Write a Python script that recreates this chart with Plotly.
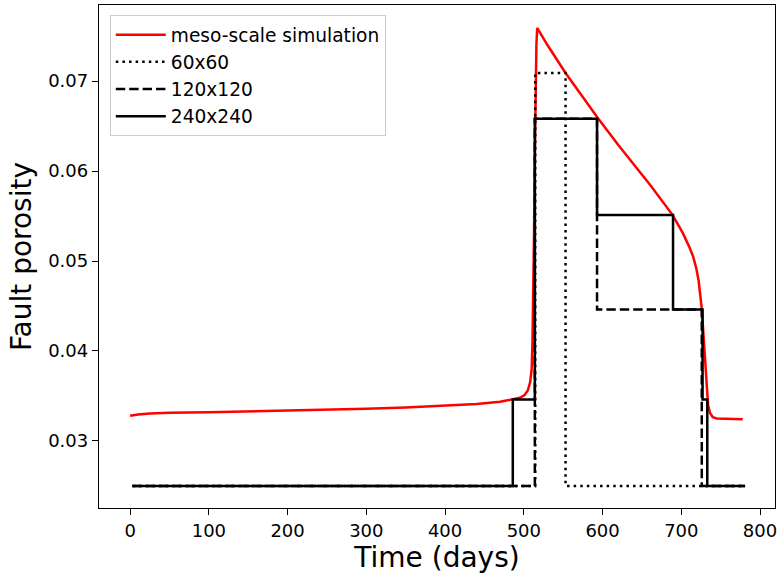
import plotly.graph_objects as go

# Meso-scale simulation (red curve)
meso_t = [0, 10, 25, 50, 100, 150, 200, 250, 300, 350, 400, 440, 470, 486, 495, 501,
          505, 508, 510, 511, 512, 513, 514, 515, 516, 517, 530, 553, 575, 594, 620,
          661, 689, 702, 710, 715, 719, 722, 726, 729, 732, 734, 736.5, 740, 745, 778]
meso_phi = [0.0328, 0.03295, 0.03305, 0.03313, 0.0332, 0.03328, 0.03338, 0.03347,
            0.03358, 0.03372, 0.03392, 0.03412, 0.03435, 0.0346, 0.0348, 0.0351,
            0.0356, 0.0365, 0.0380, 0.0410, 0.0460, 0.0530, 0.0620, 0.0690, 0.0740,
            0.0759, 0.0740, 0.0709, 0.0682, 0.0659, 0.0629, 0.0584, 0.0551, 0.0531,
            0.0516, 0.0505, 0.0492, 0.0478, 0.0447, 0.0405, 0.0360, 0.0340, 0.0331,
            0.03265, 0.0325, 0.0324]

# Upscaled models (step functions, value held until next time)
t_60 = [3, 514.5, 553, 781]
phi_60 = [0.025, 0.0709, 0.025, 0.025]

t_120 = [3, 514, 593, 726, 781]
phi_120 = [0.025, 0.0658, 0.0446, 0.025, 0.025]

t_240 = [3, 486, 514, 593, 689.5, 727, 733, 781]
phi_240 = [0.025, 0.0346, 0.0658, 0.0551, 0.0446, 0.0346, 0.025, 0.025]

x_ticks = [0, 100, 200, 300, 400, 500, 600, 700, 800]
y_ticks = [0.03, 0.04, 0.05, 0.06, 0.07]
y_tick_labels = ["0.03", "0.04", "0.05", "0.06", "0.07"]

LW = 2.5
fig = go.Figure()
fig.add_trace(go.Scatter(x=meso_t, y=meso_phi, mode="lines", name="meso-scale simulation",
                         line=dict(color="red", width=LW)))
fig.add_trace(go.Scatter(x=t_60, y=phi_60, mode="lines", name="60x60",
                         line=dict(color="black", width=LW, dash="2.5px,4.1px", shape="hv")))
fig.add_trace(go.Scatter(x=t_120, y=phi_120, mode="lines", name="120x120",
                         line=dict(color="black", width=LW, dash="9.4px,4px", shape="hv")))
fig.add_trace(go.Scatter(x=t_240, y=phi_240, mode="lines", name="240x240",
                         line=dict(color="black", width=LW, shape="hv")))

axis_common = dict(showline=True, linecolor="black", linewidth=1.35, mirror=True,
                   ticks="outside", ticklen=6, tickwidth=1.35, tickcolor="black",
                   showgrid=False, zeroline=False, automargin=False,
                   tickfont=dict(family="DejaVu Sans", size=18, color="black"))

fig.update_layout(
    width=779, height=578,
    margin=dict(l=99, r=4, t=5, b=70),
    paper_bgcolor="white", plot_bgcolor="white",
    font=dict(family="DejaVu Sans", color="black"),
    showlegend=True,
    legend=dict(x=0.016, y=0.98, xanchor="left", yanchor="top", itemwidth=50,
                bgcolor="rgba(255,255,255,0.8)", bordercolor="#cccccc", borderwidth=1,
                font=dict(family="DejaVu Sans", size=18.6, color="black")),
    xaxis=dict(range=[-39.5, 819], tickvals=x_ticks,
               title=dict(text="Time (days)", font=dict(family="DejaVu Sans", size=28), standoff=6),
               **axis_common),
    yaxis=dict(range=[0.02255, 0.07845], tickvals=y_ticks, ticktext=y_tick_labels,
               title=dict(text="Fault porosity", font=dict(family="DejaVu Sans", size=28), standoff=8),
               **axis_common),
)

fig.write_html(
    "out.html",
    config={"displayModeBar": False},
    post_script="document.body.style.margin='0px';document.body.style.overflow='hidden';"
                "document.documentElement.style.overflow='hidden';",
)
